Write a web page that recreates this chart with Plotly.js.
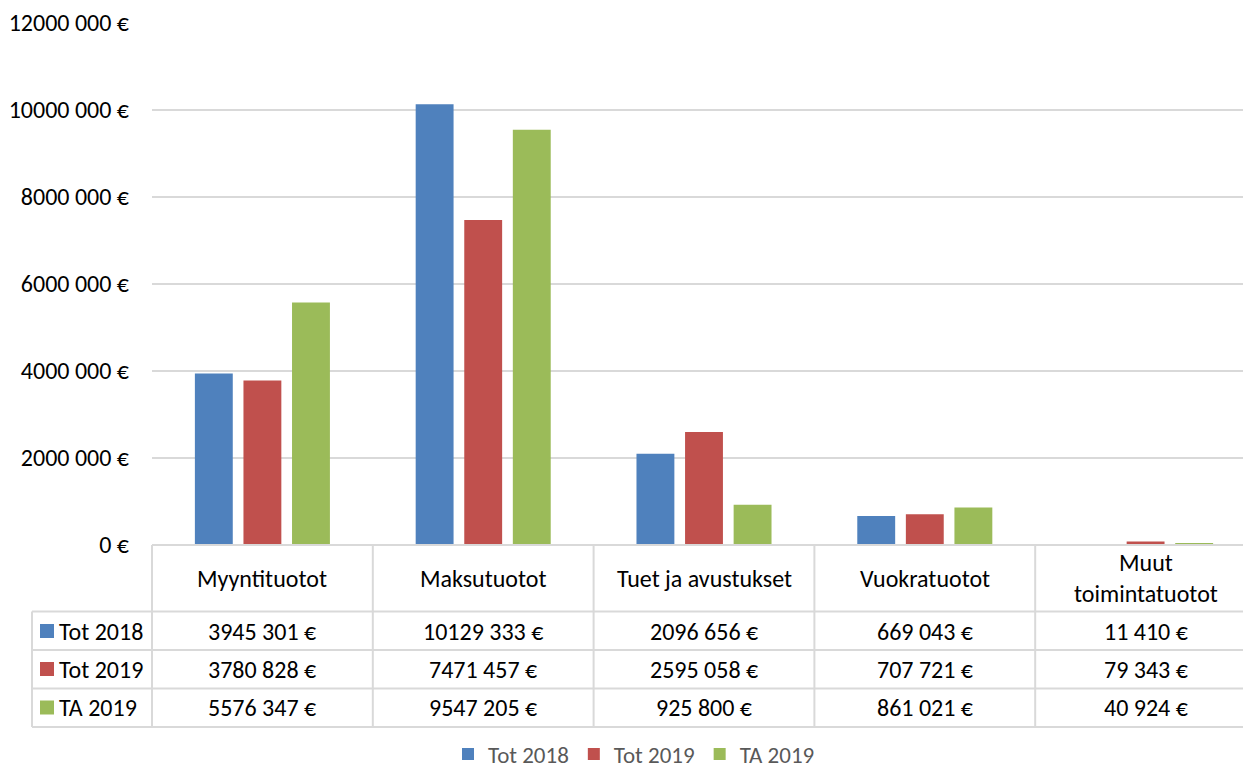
<!DOCTYPE html>
<html><head><meta charset="utf-8">
<script src="https://cdn.plot.ly/plotly-3.0.1.min.js"></script>
<style>html,body{margin:0;padding:0;overflow:hidden;background:#fff}</style>
</head><body><div id="chart"></div>
<script>
// ---- data ----
const categories = ["Myyntituotot", "Maksutuotot", "Tuet ja avustukset", "Vuokratuotot", "Muut toimintatuotot"];
const categoryLabels = ["Myyntituotot", "Maksutuotot", "Tuet ja avustukset", "Vuokratuotot", "Muut<br>toimintatuotot"];
const seriesNames = ["Tot 2018", "Tot 2019", "TA 2019"];
const tot2018 = [3945301, 10129333, 2096656, 669043, 11410];
const tot2019 = [3780828, 7471457, 2595058, 707721, 79343];
const ta2019 = [5576347, 9547205, 925800, 861021, 40924];
const yTickValues = [0, 2000000, 4000000, 6000000, 8000000, 10000000, 12000000];
const seriesColors = ["#4F81BD", "#C0504D", "#9BBB59"];

function fmt(n) {
  if (n < 1000) return n + " €";
  const hi = Math.floor(n / 1000), lo = n % 1000;
  return hi + " " + String(lo).padStart(3, "0") + " €";
}

// ---- geometry ----
const W = 1260, H = 771;
const L = 152, R = 4, T = 23, B = 226;
const PW = W - L - R, PH = H - T - B;
const fx = X => (X - L) / PW;
const fy = Y => (H - B - Y) / PH;
const FONT = "Carlito, Lato, 'Open Sans', sans-serif";
const FS = 24;
const GRID = "#d9d9d9";

const seriesValues = [tot2018, tot2019, ta2019];
const traces = seriesValues.map((vals, i) => ({
  type: "bar", name: seriesNames[i], x: categories, y: vals,
  marker: {color: seriesColors[i]}, hoverinfo: "x+y+name"
}));

const shapes = [];
const annotations = [];
const rowLines = [545, 611.5, 650, 688.5, 727];
const rowCenters = [631, 669, 707.5];
const colLines = [152, 372.8, 593.6, 814.4, 1035.2, 1256];

rowLines.forEach((Y, k) => {
  shapes.push({type: "line", xref: "paper", yref: "paper",
    x0: k === 0 ? fx(152) : fx(32), x1: 1, y0: fy(Y), y1: fy(Y),
    line: {color: GRID, width: 2}});
});
colLines.forEach(X => {
  shapes.push({type: "line", xref: "paper", yref: "paper",
    x0: fx(X), x1: fx(X), y0: fy(545), y1: fy(727), line: {color: GRID, width: 2}});
});
shapes.push({type: "line", xref: "paper", yref: "paper",
  x0: fx(32), x1: fx(32), y0: fy(611.5), y1: fy(727), line: {color: GRID, width: 2}});

categoryLabels.forEach((c, i) => {
  annotations.push({xref: "x", yref: "paper", x: categories[i], y: fy(578),
    text: c, showarrow: false, xanchor: "center", yanchor: "middle",
    font: {family: FONT, size: FS, color: "#000"}});
});
seriesValues.forEach((vals, s) => {
  const yc = rowCenters[s];
  shapes.push({type: "rect", xref: "paper", yref: "paper",
    x0: fx(40), x1: fx(54), y0: fy(yc - 7), y1: fy(yc + 7),
    fillcolor: seriesColors[s], line: {width: 0}});
  annotations.push({xref: "paper", yref: "paper", x: fx(57), y: fy(yc),
    text: seriesNames[s], showarrow: false, xanchor: "left", yanchor: "middle",
    font: {family: FONT, size: FS, color: "#000"}});
  vals.forEach((v, i) => {
    annotations.push({xref: "x", yref: "paper", x: categories[i], y: fy(yc),
      text: fmt(v), showarrow: false, xanchor: "center", yanchor: "middle",
      font: {family: FONT, size: FS, color: "#000"}});
  });
});

const layout = {
  width: W, height: H,
  margin: {l: L, r: R, t: T, b: B, pad: 0},
  paper_bgcolor: "#fff", plot_bgcolor: "#fff",
  barmode: "group", bargap: 0.34, bargroupgap: 0.22,
  font: {family: FONT, size: FS, color: "#000"},
  xaxis: {showticklabels: false, ticks: "", showgrid: false, zeroline: false, showline: false, fixedrange: true},
  yaxis: {range: [0, 12000000], tickvals: yTickValues, ticktext: yTickValues.map(fmt),
    showgrid: true, gridcolor: GRID, gridwidth: 2, zeroline: false, showline: false,
    ticks: "", ticklabelstandoff: 22, tickfont: {family: FONT, size: FS, color: "#000"}, fixedrange: true},
  showlegend: true,
  legend: {orientation: "h", xref: "container", yref: "container", x: 634 / W, y: (H - 754) / H,
    xanchor: "center", yanchor: "middle", font: {family: FONT, size: 23, color: "#595959"},
    itemclick: false, itemdoubleclick: false, tracegroupgap: 0},
  shapes: shapes, annotations: annotations
};

Plotly.newPlot("chart", traces, layout, {displayModeBar: false});
</script>
</body></html>
